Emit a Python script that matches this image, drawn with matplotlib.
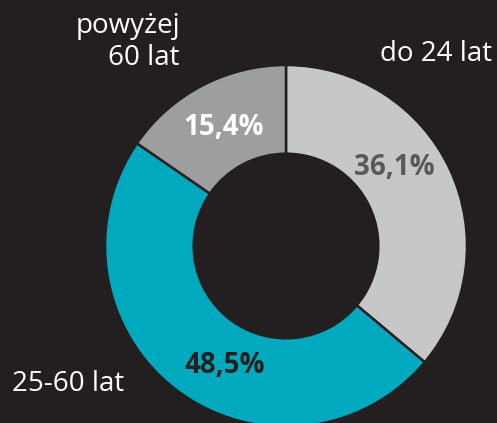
import matplotlib
matplotlib.use("Agg")
import matplotlib.pyplot as plt
import numpy as np

plt.rcParams['font.family'] = ['Open Sans', 'DejaVu Sans']

# data
groups = ['do 24 lat', '25-60 lat', 'powyżej\n60 lat']
shares = [36.1, 48.5, 15.4]
colors = ['#c6c7c9', '#00a9bd', '#9d9ea0']
pct_colors = ['#58595b', '#231f20', '#ffffff']

bg = '#231f20'
W, H = 497, 423

fig = plt.figure(figsize=(W / 100, H / 100), dpi=100, facecolor=bg)
ax = fig.add_axes([0, 0, 1, 1])
ax.set_facecolor(bg)

cx, cy, r = 286, H - 246, 181
wedges, _ = ax.pie(shares, colors=colors, startangle=90, counterclock=False,
                   center=(cx, cy), radius=r, frame=True,
                   wedgeprops=dict(width=r * 0.49, edgecolor=bg, linewidth=1.8))
ax.set_xlim(0, W)
ax.set_ylim(0, H)
ax.set_aspect('equal')
ax.axis('off')

# percent labels inside the ring (small angular nudges to match layout)
nudge = [11, 10, 0]
for w, s, c, d in zip(wedges, shares, pct_colors, nudge):
    ang = np.deg2rad((w.theta1 + w.theta2) / 2 + d)
    rr = r * 0.74
    ax.text(cx + rr * np.cos(ang), cy + rr * np.sin(ang),
            f"{s:.1f}%".replace('.', ','), color=c, fontsize=20,
            fontweight='bold', ha='center', va='center')

# category labels
ax.text(436, H - 54, groups[0], color='white', fontsize=20, ha='center', va='center')
ax.text(68, H - 384, groups[1], color='white', fontsize=20, ha='center', va='center')
ax.text(180, H - 42, groups[2], color='white', fontsize=20, ha='right', va='center',
        multialignment='right', linespacing=1.2)

fig.savefig('out.png', dpi=100, facecolor=bg)
